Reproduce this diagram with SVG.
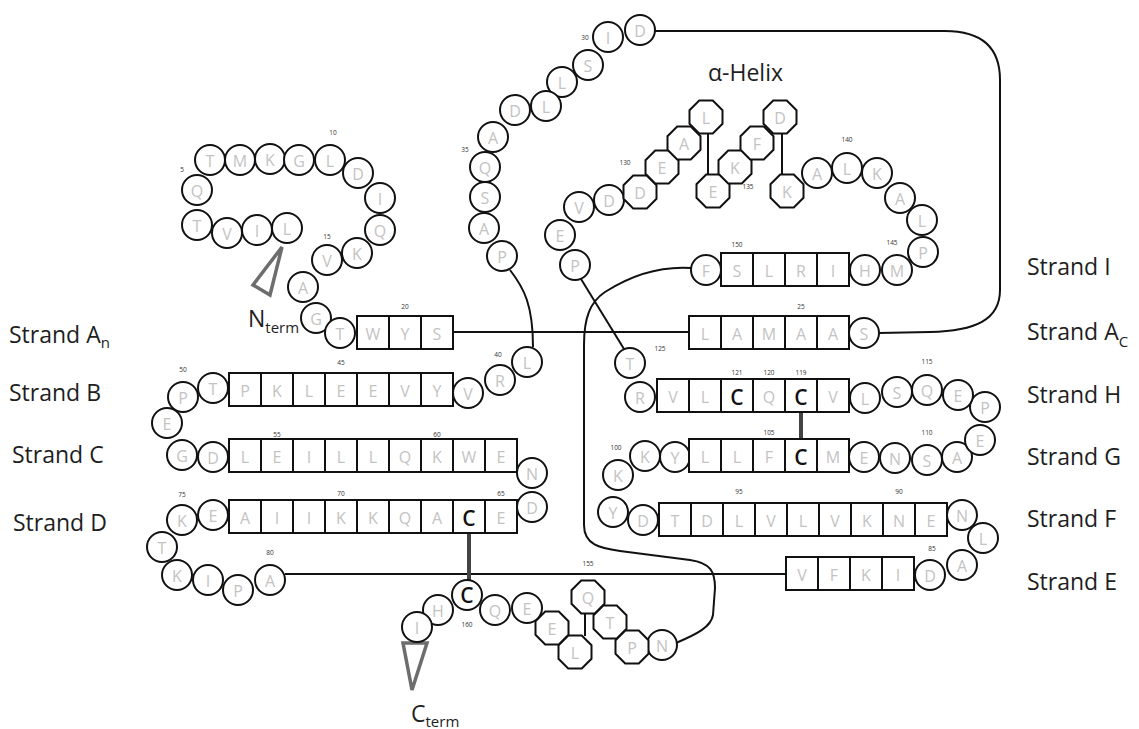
<svg xmlns="http://www.w3.org/2000/svg" xmlns:xlink="http://www.w3.org/1999/xlink" width="1139" height="729" viewBox="0 0 1139 729">
<style>
.res circle,.res rect,.res use{fill:#fff;stroke:#111;stroke-width:2}
.res text{font-family:"Open Sans","Liberation Sans",sans-serif;font-size:16px;fill:#c3c3c3;text-anchor:middle}
.res text.cc{font-size:21px;font-weight:600;fill:#111}
.num{font-family:"Open Sans","Liberation Sans",sans-serif;font-size:6.5px;fill:#333;text-anchor:middle}
.lbl{font-family:"Open Sans","Liberation Sans",sans-serif;font-size:23px;fill:#1e1e1e}
.ln{fill:none;stroke:#111;stroke-width:2}
.ss{fill:none;stroke:#444;stroke-width:4}
.tri{fill:none;stroke:#6d6d6d;stroke-width:3.5;stroke-linejoin:miter}
</style>
<defs>
<polygon id="oct" points="-6.8,-16.5 6.8,-16.5 16.5,-6.8 16.5,6.8 6.8,16.5 -6.8,16.5 -16.5,6.8 -16.5,-6.8"/>
</defs>
<rect width="1139" height="729" fill="#fff"/>
<g id="connectors">
<path class="ln" d="M453,332 H689"/>
<path class="ln" d="M879,333 L930,332 C975,331 1000,320 1000,290 L1000,80 C1000,50 985,31 945,31 L655,31"/>
<path class="ln" d="M510,270 C524,288 533,305 533,347"/>
<path class="ln" d="M285,574 H786"/>
<path class="ln" d="M581,279 L624,349"/>
<path class="ln" d="M691,268 C660,266 630,276 605,292 C590,302 584,318 584,345 L584,525 C584,545 600,548 620,551 L690,560 C711,563 715,572 715,588 L713,615 C711,627 697,634 676,643"/>
<path class="ln" d="M708,134 V174"/>
<path class="ln" d="M782,134 V174"/>
<path class="ln" d="M585,614 V636"/>
<path class="ss" d="M469,533 V581"/>
<path class="ss" d="M801,412 V439"/>
</g>
<g id="termini">
<polygon class="tri" points="282,247 253,285 270,295"/>
<polygon class="tri" points="403,643 427,643 412,690"/>
</g>
<g class="res">
<g id="r1"><circle cx="287" cy="228" r="15"/><text x="287" y="235">L</text></g>
<g id="r2"><circle cx="257" cy="230" r="15"/><text x="257" y="237">I</text></g>
<g id="r3"><circle cx="227" cy="233" r="15"/><text x="227" y="240">V</text></g>
<g id="r4"><circle cx="197" cy="225" r="15"/><text x="197" y="232">T</text></g>
<g id="r5"><circle cx="197" cy="190" r="15"/><text x="197" y="197">Q</text></g>
<g id="r6"><circle cx="210" cy="160" r="15"/><text x="210" y="167">T</text></g>
<g id="r7"><circle cx="240" cy="160" r="15"/><text x="240" y="167">M</text></g>
<g id="r8"><circle cx="270" cy="159" r="15"/><text x="270" y="166">K</text></g>
<g id="r9"><circle cx="299" cy="160" r="15"/><text x="299" y="167">G</text></g>
<g id="r10"><circle cx="330" cy="160" r="15"/><text x="330" y="167">L</text></g>
<g id="r11"><circle cx="358" cy="173" r="15"/><text x="358" y="180">D</text></g>
<g id="r12"><circle cx="380" cy="198" r="15"/><text x="380" y="205">I</text></g>
<g id="r13"><circle cx="380" cy="230" r="15"/><text x="380" y="237">Q</text></g>
<g id="r14"><circle cx="357" cy="253" r="15"/><text x="357" y="260">K</text></g>
<g id="r15"><circle cx="327" cy="260" r="15"/><text x="327" y="267">V</text></g>
<g id="r16"><circle cx="303" cy="287" r="15"/><text x="303" y="294">A</text></g>
<g id="r17"><circle cx="316" cy="318" r="15"/><text x="316" y="325">G</text></g>
<g id="r18"><circle cx="340" cy="333" r="15"/><text x="340" y="340">T</text></g>
<g id="r19"><rect x="357" y="316" width="32" height="33"/><text x="373" y="340">W</text></g>
<g id="r20"><rect x="389" y="316" width="32" height="33"/><text x="405" y="340">Y</text></g>
<g id="r21"><rect x="421" y="316" width="32" height="33"/><text x="437" y="340">S</text></g>
<g id="r22"><rect x="689" y="316" width="32" height="33"/><text x="705" y="340">L</text></g>
<g id="r23"><rect x="721" y="316" width="32" height="33"/><text x="737" y="340">A</text></g>
<g id="r24"><rect x="753" y="316" width="32" height="33"/><text x="769" y="340">M</text></g>
<g id="r25"><rect x="785" y="316" width="32" height="33"/><text x="801" y="340">A</text></g>
<g id="r26"><rect x="817" y="316" width="32" height="33"/><text x="833" y="340">A</text></g>
<g id="r27"><circle cx="864" cy="333" r="15"/><text x="864" y="340">S</text></g>
<g id="r28"><circle cx="640" cy="30" r="15"/><text x="640" y="37">D</text></g>
<g id="r29"><circle cx="608" cy="37" r="15"/><text x="608" y="44">I</text></g>
<g id="r30"><circle cx="588" cy="65" r="15"/><text x="588" y="72">S</text></g>
<g id="r31"><circle cx="562" cy="82" r="15"/><text x="562" y="89">L</text></g>
<g id="r32"><circle cx="546" cy="106" r="15"/><text x="546" y="113">L</text></g>
<g id="r33"><circle cx="515" cy="110" r="15"/><text x="515" y="117">D</text></g>
<g id="r34"><circle cx="493" cy="137" r="15"/><text x="493" y="144">A</text></g>
<g id="r35"><circle cx="485" cy="167" r="15"/><text x="485" y="174">Q</text></g>
<g id="r36"><circle cx="485" cy="197" r="15"/><text x="485" y="204">S</text></g>
<g id="r37"><circle cx="484" cy="228" r="15"/><text x="484" y="235">A</text></g>
<g id="r38"><circle cx="502" cy="256" r="15"/><text x="502" y="263">P</text></g>
<g id="r39"><circle cx="527" cy="362" r="15"/><text x="527" y="369">L</text></g>
<g id="r40"><circle cx="500" cy="380" r="15"/><text x="500" y="387">R</text></g>
<g id="r41"><circle cx="468" cy="393" r="15"/><text x="468" y="400">V</text></g>
<g id="r42"><rect x="421" y="373" width="32" height="33"/><text x="437" y="397">Y</text></g>
<g id="r43"><rect x="389" y="373" width="32" height="33"/><text x="405" y="397">V</text></g>
<g id="r44"><rect x="357" y="373" width="32" height="33"/><text x="373" y="397">E</text></g>
<g id="r45"><rect x="325" y="373" width="32" height="33"/><text x="341" y="397">E</text></g>
<g id="r46"><rect x="293" y="373" width="32" height="33"/><text x="309" y="397">L</text></g>
<g id="r47"><rect x="261" y="373" width="32" height="33"/><text x="277" y="397">K</text></g>
<g id="r48"><rect x="229" y="373" width="32" height="33"/><text x="245" y="397">P</text></g>
<g id="r49"><circle cx="213" cy="388" r="15"/><text x="213" y="395">T</text></g>
<g id="r50"><circle cx="183" cy="397" r="15"/><text x="183" y="404">P</text></g>
<g id="r51"><circle cx="167" cy="423" r="15"/><text x="167" y="430">E</text></g>
<g id="r52"><circle cx="182" cy="455" r="15"/><text x="182" y="462">G</text></g>
<g id="r53"><circle cx="213" cy="457" r="15"/><text x="213" y="464">D</text></g>
<g id="r54"><rect x="229" y="439" width="32" height="33"/><text x="245" y="463">L</text></g>
<g id="r55"><rect x="261" y="439" width="32" height="33"/><text x="277" y="463">E</text></g>
<g id="r56"><rect x="293" y="439" width="32" height="33"/><text x="309" y="463">I</text></g>
<g id="r57"><rect x="325" y="439" width="32" height="33"/><text x="341" y="463">L</text></g>
<g id="r58"><rect x="357" y="439" width="32" height="33"/><text x="373" y="463">L</text></g>
<g id="r59"><rect x="389" y="439" width="32" height="33"/><text x="405" y="463">Q</text></g>
<g id="r60"><rect x="421" y="439" width="32" height="33"/><text x="437" y="463">K</text></g>
<g id="r61"><rect x="453" y="439" width="32" height="33"/><text x="469" y="463">W</text></g>
<g id="r62"><rect x="485" y="439" width="32" height="33"/><text x="501" y="463">E</text></g>
<g id="r63"><circle cx="532" cy="473" r="15"/><text x="532" y="480">N</text></g>
<g id="r64"><circle cx="532" cy="507" r="15"/><text x="532" y="514">D</text></g>
<g id="r65"><rect x="485" y="500" width="32" height="33"/><text x="501" y="524">E</text></g>
<g id="r66"><rect x="453" y="500" width="32" height="33"/><text class="cc" x="469" y="526">C</text></g>
<g id="r67"><rect x="421" y="500" width="32" height="33"/><text x="437" y="524">A</text></g>
<g id="r68"><rect x="389" y="500" width="32" height="33"/><text x="405" y="524">Q</text></g>
<g id="r69"><rect x="357" y="500" width="32" height="33"/><text x="373" y="524">K</text></g>
<g id="r70"><rect x="325" y="500" width="32" height="33"/><text x="341" y="524">K</text></g>
<g id="r71"><rect x="293" y="500" width="32" height="33"/><text x="309" y="524">I</text></g>
<g id="r72"><rect x="261" y="500" width="32" height="33"/><text x="277" y="524">I</text></g>
<g id="r73"><rect x="229" y="500" width="32" height="33"/><text x="245" y="524">A</text></g>
<g id="r74"><circle cx="213" cy="515" r="15"/><text x="213" y="522">E</text></g>
<g id="r75"><circle cx="182" cy="520" r="15"/><text x="182" y="527">K</text></g>
<g id="r76"><circle cx="162" cy="547" r="15"/><text x="162" y="554">T</text></g>
<g id="r77"><circle cx="177" cy="575" r="15"/><text x="177" y="582">K</text></g>
<g id="r78"><circle cx="208" cy="580" r="15"/><text x="208" y="587">I</text></g>
<g id="r79"><circle cx="238" cy="590" r="15"/><text x="238" y="597">P</text></g>
<g id="r80"><circle cx="270" cy="580" r="15"/><text x="270" y="587">A</text></g>
<g id="r81"><rect x="786" y="557" width="32" height="33"/><text x="802" y="581">V</text></g>
<g id="r82"><rect x="818" y="557" width="32" height="33"/><text x="834" y="581">F</text></g>
<g id="r83"><rect x="850" y="557" width="32" height="33"/><text x="866" y="581">K</text></g>
<g id="r84"><rect x="882" y="557" width="32" height="33"/><text x="898" y="581">I</text></g>
<g id="r85"><circle cx="930" cy="575" r="15"/><text x="930" y="582">D</text></g>
<g id="r86"><circle cx="962" cy="565" r="15"/><text x="962" y="572">A</text></g>
<g id="r87"><circle cx="983" cy="538" r="15"/><text x="983" y="545">L</text></g>
<g id="r88"><circle cx="962" cy="515" r="15"/><text x="962" y="522">N</text></g>
<g id="r89"><rect x="915" y="503" width="32" height="33"/><text x="931" y="527">E</text></g>
<g id="r90"><rect x="883" y="503" width="32" height="33"/><text x="899" y="527">N</text></g>
<g id="r91"><rect x="851" y="503" width="32" height="33"/><text x="867" y="527">K</text></g>
<g id="r92"><rect x="819" y="503" width="32" height="33"/><text x="835" y="527">V</text></g>
<g id="r93"><rect x="787" y="503" width="32" height="33"/><text x="803" y="527">L</text></g>
<g id="r94"><rect x="755" y="503" width="32" height="33"/><text x="771" y="527">V</text></g>
<g id="r95"><rect x="723" y="503" width="32" height="33"/><text x="739" y="527">L</text></g>
<g id="r96"><rect x="691" y="503" width="32" height="33"/><text x="707" y="527">D</text></g>
<g id="r97"><rect x="659" y="503" width="32" height="33"/><text x="675" y="527">T</text></g>
<g id="r98"><circle cx="643" cy="520" r="15"/><text x="643" y="527">D</text></g>
<g id="r99"><circle cx="613" cy="512" r="15"/><text x="613" y="519">Y</text></g>
<g id="r100"><circle cx="618" cy="475" r="15"/><text x="618" y="482">K</text></g>
<g id="r101"><circle cx="645" cy="456" r="15"/><text x="645" y="463">K</text></g>
<g id="r102"><circle cx="675" cy="457" r="15"/><text x="675" y="464">Y</text></g>
<g id="r103"><rect x="689" y="439" width="32" height="33"/><text x="705" y="463">L</text></g>
<g id="r104"><rect x="721" y="439" width="32" height="33"/><text x="737" y="463">L</text></g>
<g id="r105"><rect x="753" y="439" width="32" height="33"/><text x="769" y="463">F</text></g>
<g id="r106"><rect x="785" y="439" width="32" height="33"/><text class="cc" x="801" y="465">C</text></g>
<g id="r107"><rect x="817" y="439" width="32" height="33"/><text x="833" y="463">M</text></g>
<g id="r108"><circle cx="864" cy="457" r="15"/><text x="864" y="464">E</text></g>
<g id="r109"><circle cx="895" cy="458" r="15"/><text x="895" y="465">N</text></g>
<g id="r110"><circle cx="927" cy="460" r="15"/><text x="927" y="467">S</text></g>
<g id="r111"><circle cx="957" cy="457" r="15"/><text x="957" y="464">A</text></g>
<g id="r112"><circle cx="980" cy="440" r="15"/><text x="980" y="447">E</text></g>
<g id="r113"><circle cx="985" cy="407" r="15"/><text x="985" y="414">P</text></g>
<g id="r114"><circle cx="958" cy="395" r="15"/><text x="958" y="402">E</text></g>
<g id="r115"><circle cx="927" cy="390" r="15"/><text x="927" y="397">Q</text></g>
<g id="r116"><circle cx="897" cy="392" r="15"/><text x="897" y="399">S</text></g>
<g id="r117"><circle cx="865" cy="398" r="15"/><text x="865" y="405">L</text></g>
<g id="r118"><rect x="817" y="379" width="32" height="33"/><text x="833" y="403">V</text></g>
<g id="r119"><rect x="785" y="379" width="32" height="33"/><text class="cc" x="801" y="405">C</text></g>
<g id="r120"><rect x="753" y="379" width="32" height="33"/><text x="769" y="403">Q</text></g>
<g id="r121"><rect x="721" y="379" width="32" height="33"/><text class="cc" x="737" y="405">C</text></g>
<g id="r122"><rect x="689" y="379" width="32" height="33"/><text x="705" y="403">L</text></g>
<g id="r123"><rect x="657" y="379" width="32" height="33"/><text x="673" y="403">V</text></g>
<g id="r124"><circle cx="640" cy="397" r="15"/><text x="640" y="404">R</text></g>
<g id="r125"><circle cx="630" cy="363" r="15"/><text x="630" y="370">T</text></g>
<g id="r126"><circle cx="575" cy="265" r="15"/><text x="575" y="272">P</text></g>
<g id="r127"><circle cx="560" cy="235" r="15"/><text x="560" y="242">E</text></g>
<g id="r128"><circle cx="579" cy="207" r="15"/><text x="579" y="214">V</text></g>
<g id="r129"><circle cx="609" cy="200" r="15"/><text x="609" y="207">D</text></g>
<g id="r130"><use xlink:href="#oct" x="640" y="192"/><text x="640" y="199">D</text></g>
<g id="r131"><use xlink:href="#oct" x="662" y="167"/><text x="662" y="174">E</text></g>
<g id="r132"><use xlink:href="#oct" x="684" y="143"/><text x="684" y="150">A</text></g>
<g id="r133"><use xlink:href="#oct" x="706" y="117"/><text x="706" y="124">L</text></g>
<g id="r134"><use xlink:href="#oct" x="713" y="191"/><text x="713" y="198">E</text></g>
<g id="r135"><use xlink:href="#oct" x="735" y="167"/><text x="735" y="174">K</text></g>
<g id="r136"><use xlink:href="#oct" x="757" y="143"/><text x="757" y="150">F</text></g>
<g id="r137"><use xlink:href="#oct" x="780" y="117"/><text x="780" y="124">D</text></g>
<g id="r138"><use xlink:href="#oct" x="787" y="191"/><text x="787" y="198">K</text></g>
<g id="r139"><circle cx="817" cy="173" r="15"/><text x="817" y="180">A</text></g>
<g id="r140"><circle cx="847" cy="168" r="15"/><text x="847" y="175">L</text></g>
<g id="r141"><circle cx="877" cy="173" r="15"/><text x="877" y="180">K</text></g>
<g id="r142"><circle cx="900" cy="198" r="15"/><text x="900" y="205">A</text></g>
<g id="r143"><circle cx="922" cy="220" r="15"/><text x="922" y="227">L</text></g>
<g id="r144"><circle cx="923" cy="252" r="15"/><text x="923" y="259">P</text></g>
<g id="r145"><circle cx="897" cy="270" r="15"/><text x="897" y="277">M</text></g>
<g id="r146"><circle cx="865" cy="270" r="15"/><text x="865" y="277">H</text></g>
<g id="r147"><rect x="817" y="253" width="32" height="33"/><text x="833" y="277">I</text></g>
<g id="r148"><rect x="785" y="253" width="32" height="33"/><text x="801" y="277">R</text></g>
<g id="r149"><rect x="753" y="253" width="32" height="33"/><text x="769" y="277">L</text></g>
<g id="r150"><rect x="721" y="253" width="32" height="33"/><text x="737" y="277">S</text></g>
<g id="r151"><circle cx="706" cy="270" r="15"/><text x="706" y="277">F</text></g>
<g id="r152"><circle cx="662" cy="645" r="15"/><text x="662" y="652">N</text></g>
<g id="r153"><use xlink:href="#oct" x="632" y="647"/><text x="632" y="654">P</text></g>
<g id="r154"><use xlink:href="#oct" x="610" y="622"/><text x="610" y="629">T</text></g>
<g id="r155"><use xlink:href="#oct" x="588" y="597"/><text x="588" y="604">Q</text></g>
<g id="r156"><use xlink:href="#oct" x="575" y="652"/><text x="575" y="659">L</text></g>
<g id="r157"><use xlink:href="#oct" x="552" y="628"/><text x="552" y="635">E</text></g>
<g id="r158"><circle cx="527" cy="608" r="15"/><text x="527" y="615">E</text></g>
<g id="r159"><circle cx="495" cy="610" r="15"/><text x="495" y="617">Q</text></g>
<g id="r160"><circle cx="467" cy="595" r="15"/><text class="cc" x="467" y="603">C</text></g>
<g id="r161"><circle cx="438" cy="610" r="15"/><text x="438" y="617">H</text></g>
<g id="r162"><circle cx="417" cy="627" r="15"/><text x="417" y="634">I</text></g>
</g>
<g id="numbers">
<text class="num" x="182" y="172">5</text>
<text class="num" x="333" y="135">10</text>
<text class="num" x="327" y="239">15</text>
<text class="num" x="405" y="309">20</text>
<text class="num" x="801" y="309">25</text>
<text class="num" x="585" y="40">30</text>
<text class="num" x="465" y="152">35</text>
<text class="num" x="498" y="357">40</text>
<text class="num" x="341" y="365">45</text>
<text class="num" x="183" y="372">50</text>
<text class="num" x="277" y="437">55</text>
<text class="num" x="437" y="437">60</text>
<text class="num" x="501" y="496">65</text>
<text class="num" x="341" y="496">70</text>
<text class="num" x="182" y="497">75</text>
<text class="num" x="270" y="555">80</text>
<text class="num" x="932" y="551">85</text>
<text class="num" x="899" y="494">90</text>
<text class="num" x="739" y="494">95</text>
<text class="num" x="616" y="450">100</text>
<text class="num" x="769" y="435">105</text>
<text class="num" x="927" y="435">110</text>
<text class="num" x="927" y="364">115</text>
<text class="num" x="801" y="375">119</text>
<text class="num" x="769" y="375">120</text>
<text class="num" x="737" y="375">121</text>
<text class="num" x="660" y="351">125</text>
<text class="num" x="625" y="165">130</text>
<text class="num" x="748" y="189">135</text>
<text class="num" x="847" y="142">140</text>
<text class="num" x="892" y="245">145</text>
<text class="num" x="737" y="247">150</text>
<text class="num" x="588" y="566">155</text>
<text class="num" x="467" y="627">160</text>
</g>
<g id="labels">
<text class="lbl" x="9" y="343">Strand A<tspan font-size="15" dy="5">n</tspan></text>
<text class="lbl" x="9" y="401">Strand B</text>
<text class="lbl" x="12" y="463">Strand C</text>
<text class="lbl" x="13" y="531">Strand D</text>
<text class="lbl" x="1027" y="275">Strand I</text>
<text class="lbl" x="1027" y="340">Strand A<tspan font-size="15" dy="7">C</tspan></text>
<text class="lbl" x="1027" y="403">Strand H</text>
<text class="lbl" x="1027" y="465">Strand G</text>
<text class="lbl" x="1027" y="527">Strand F</text>
<text class="lbl" x="1027" y="590">Strand E</text>
<text class="lbl" x="708" y="81">α-Helix</text>
<text class="lbl" x="248" y="327" font-size="22">N<tspan font-size="15" dy="6">term</tspan></text>
<text class="lbl" x="411" y="722" font-size="22">C<tspan font-size="15" dy="5">term</tspan></text>
</g>
</svg>
